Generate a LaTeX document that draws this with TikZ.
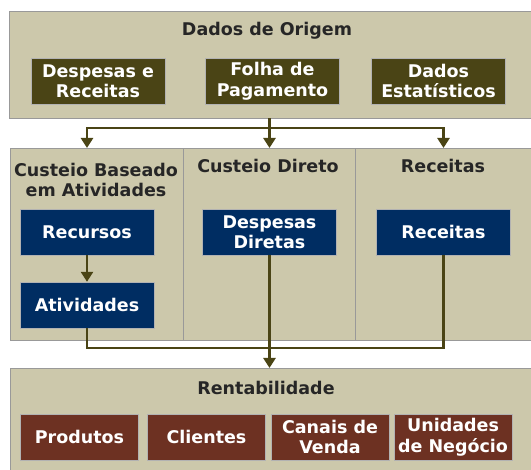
\documentclass[tikz,border=0pt]{standalone}
\usepackage{fontspec}
\setmainfont{DejaVu Sans}
\usetikzlibrary{arrows.meta,positioning}
\definecolor{panelfill}{HTML}{CCC8AB}
\definecolor{srcfill}{HTML}{4A4415}
\definecolor{costfill}{HTML}{002D62}
\definecolor{resfill}{HTML}{6D3122}
\definecolor{flowcol}{HTML}{4A4415}
\newcommand{\boxfont}{\fontsize{17.5}{20.5}\selectfont\bfseries}

\begin{document}
\begin{tikzpicture}[x = 1pt, y = -1pt,
  panel/.style = {draw = gray!80, fill = panelfill, anchor = north west, inner sep = 0pt},
  heading/.style = {font = \boxfont, text = black!85, align = center, inner sep = 0pt},
  item/.style = {draw = gray!60, minimum height = 46pt, text = white, font = \boxfont, align = center, inner sep = 0pt},
  source/.style = {item, fill = srcfill, minimum width = 134pt},
  cost/.style = {item, fill = costfill, minimum width = 134pt},
  result/.style = {item, fill = resfill, minimum width = 118pt},
  flow/.style = {draw = flowcol, line width = 2.5pt},
  tip/.style = {-{Triangle[width = 12pt, length = 10pt]}}]
  \clip (0,0) rectangle (531,470);
  % source data
  \node[panel, minimum width = 540pt, minimum height = 107pt] (origem) at (9,11) {};
  \node[heading, anchor = base] (torigem) at (267,36) {Dados de Origem};
  \node[source] (despesas) at (98,81) {Despesas e\\Receitas};
  \node[source] (folha) at (272.5,81) {Folha de\\Pagamento};
  \node[source] (estat) at (438.5,81) {Dados\\Estatísticos};
  % costing
  \node[panel, minimum width = 173pt, minimum height = 192pt] (abc) at (10,148) {};
  \node[panel, minimum width = 172pt, minimum height = 192pt] (direto) at (183,148) {};
  \node[panel, minimum width = 180pt, minimum height = 192pt] (receitas) at (355,148) {};
  \node[heading] (tabc) at (96,180) {Custeio Baseado\\em Atividades};
  \node[heading, anchor = base] (tdireto) at (268,173) {Custeio Direto};
  \node[heading, anchor = base] (treceitas) at (443,173) {Receitas};
  \node[cost] (recursos) at (87,232) {Recursos};
  \node[cost] (atividades) at (87,305) {Atividades};
  \node[cost] (diretas) at (269.5,232) {Despesas\\Diretas};
  \node[cost] (rec) at (443.5,232) {Receitas};
  % profitability
  \node[panel, minimum width = 530pt, minimum height = 110pt] (rentab) at (10,368) {};
  \node[heading, anchor = base] (trentab) at (266,395) {Rentabilidade};
  \node[result] (produtos) at (79.5,437) {Produtos};
  \node[result] (clientes) at (206.5,437) {Clientes};
  \node[result] (canais) at (330,437) {Canais de\\Venda};
  \node[result] (unidades) at (453,437) {Unidades\\de Negócio};
  % connectors
  \coordinate (split) at (269.5,128);
  \coordinate (join) at (269.5,348);
  \draw[flow] (origem.south -| split) -- (split);
  \draw[flow, tip] (split) -| (recursos.north |- abc.north);
  \draw[flow, tip] (split) -- (diretas.north |- direto.north);
  \draw[flow, tip] (split) -| (rec.north |- receitas.north);
  \draw[flow, tip] (recursos) -- (atividades);
  \draw[flow] (atividades.south) |- (join) -| (rec.south);
  \draw[flow, tip] (diretas) -- (diretas |- rentab.north);
\end{tikzpicture}
\end{document}
